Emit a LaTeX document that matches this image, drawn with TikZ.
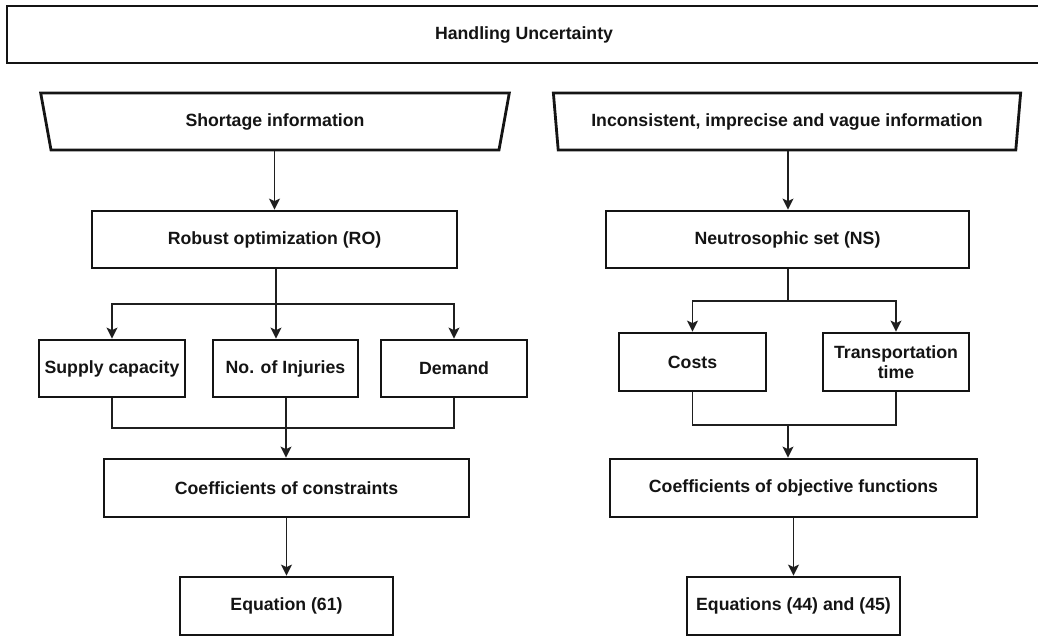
\documentclass[tikz,border=0pt]{standalone}
\usepackage{fontspec}
\setmainfont{Liberation Sans}
\usetikzlibrary{shapes.geometric,arrows.meta}
\begin{document}
\begin{tikzpicture}[x=1pt,y=-1pt,
  box/.style={draw=black!92,line width=2.8pt,rectangle,inner sep=0pt,align=center,
    font=\bfseries\fontsize{17.7}{20.5}\selectfont,text=black!92},
  trap/.style={box,trapezium,shape border rotate=180,trapezium stretches=true,
    trapezium angle=76},
  conn/.style={draw=black!88,line width=1.5pt},
  arr/.style={conn,-{Stealth[length=11pt,width=11pt,inset=2.5pt]}}]
\useasboundingbox[fill=white] (0,0) rectangle (1038,639);
% top banner
\node[box,minimum width=1034,minimum height=57] (top) at (524,34.5) {Handling Uncertainty};
% trapezoids
\node[trap,minimum width=470,minimum height=57] (si) at (275,121.5) {Shortage information};
\node[trap,minimum width=470,minimum height=57] (ii) at (787,121.5) {Inconsistent, imprecise and vague information};
% method boxes
\node[box,minimum width=365,minimum height=57] (ro) at (274.5,239.5) {Robust optimization (RO)};
\node[box,minimum width=363,minimum height=57] (ns) at (787.5,239.5) {Neutrosophic set (NS)};
% parameter boxes left
\node[box,minimum width=146,minimum height=57] (sc) at (112,368.5) {Supply capacity};
\node[box,minimum width=145,minimum height=57] (inj) at (285.5,368.5) {No. of Injuries};
\node[box,minimum width=146,minimum height=57] (dem) at (454,368.5) {Demand};
% parameter boxes right
\node[box,minimum width=147,minimum height=58] (cost) at (692.5,362) {Costs};
\node[box,minimum width=146,minimum height=58] (tt) at (896,362) {Transportation\\time};
% coefficient boxes
\node[box,minimum width=365,minimum height=58] (cc) at (286.5,488) {Coefficients of constraints};
\node[box,minimum width=367,minimum height=58] (co) at (793.5,488) {Coefficients of objective functions};
% equations
\node[box,minimum width=213,minimum height=58] (e61) at (286.5,606) {Equation (61)};
\node[box,minimum width=213,minimum height=58] (e44) at (793.5,606) {Equations (44) and (45)};
% helper coordinates
\coordinate (lsplit) at (276,304);
\coordinate (lmerge) at (286,428);
\coordinate (rsplit) at (788,301);
\coordinate (rmerge) at (788,425);
% left column connectors
\draw[arr] (si.south -| ro.north) -- (ro.north);
\draw[conn] (ro.south -| lsplit) -- (lsplit);
\draw[arr] (lsplit) -| (sc.north);
\draw[arr] (lsplit) -| (dem.north);
\draw[arr] (lsplit) -- (lsplit |- inj.north);
\draw[conn] (sc.south) |- (lmerge) -| (dem.south);
\draw[arr] (inj.south -| lmerge) -- (cc.north -| lmerge);
\draw[arr] (cc.south) -- (e61.north);
% right column connectors
\draw[arr] (ii.south -| rsplit) -- (ns.north -| rsplit);
\draw[conn] (ns.south -| rsplit) -- (rsplit);
\draw[arr] (rsplit) -| (cost.north);
\draw[arr] (rsplit) -| (tt.north);
\draw[conn] (cost.south) |- (rmerge) -| (tt.south);
\draw[arr] (rmerge) -- (co.north -| rmerge);
\draw[arr] (co.south) -- (e44.north);
\end{tikzpicture}
\end{document}
